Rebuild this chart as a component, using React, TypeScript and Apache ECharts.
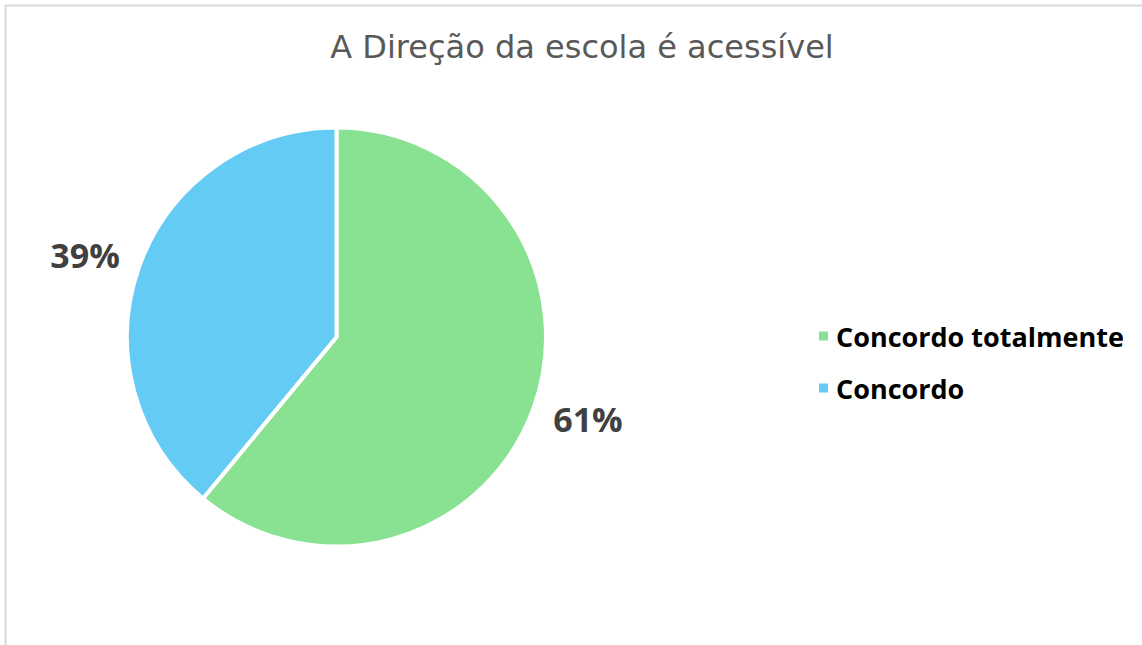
import React, { useEffect, useRef } from "react";
import * as echarts from "echarts";

const titleText = "A Direção da escola é acessível";
const categories = ["Concordo totalmente", "Concordo"];
const values = [61, 39];
const colors = ["#88E291", "#63CBF4"];

export default function App() {
  const ref = useRef<HTMLDivElement>(null);
  useEffect(() => {
    document.body.style.margin = "0";
    const chart = echarts.init(ref.current!, null, { renderer: "svg" });
    chart.setOption({
      animation: false,
      backgroundColor: "#ffffff",
      title: {
        text: titleText,
        left: 577,
        textAlign: "center",
        top: 26,
        textStyle: {
          fontFamily: "DejaVu Sans",
          fontSize: 32,
          fontWeight: "normal",
          color: "#595959",
        },
      },
      legend: {
        orient: "vertical",
        left: 812,
        top: 316,
        itemWidth: 11,
        itemHeight: 11,
        itemGap: 22,
        icon: "rect",
        data: categories,
        textStyle: {
          fontFamily: "Open Sans",
          fontSize: 27,
          lineHeight: 30,
          fontWeight: "bold",
          color: "#000000",
          padding: [0, 0, 0, 2],
        },
      },
      graphic: [
        {
          type: "rect",
          shape: { x: 5.5, y: 5.5, width: 1200, height: 700 },
          style: { fill: "none", stroke: "#d9d9d9", lineWidth: 2 },
          silent: true,
        },
      ],
      series: [
        {
          type: "pie",
          center: [336.5, 337],
          radius: [0, 209.5],
          startAngle: 90,
          clockwise: true,
          itemStyle: { borderColor: "#ffffff", borderWidth: 4 },
          label: {
            show: true,
            position: "outside",
            formatter: "{d}%",
            fontFamily: "Open Sans",
            fontSize: 34,
            fontWeight: "bold",
            color: "#404040",
            distanceToLabelLine: -11,
          },
          labelLine: { show: false, length: 32.5, length2: 0 },
          emphasis: { disabled: true },
          data: categories.map((c, i) => ({
            name: c,
            value: values[i],
            itemStyle: { color: colors[i] },
          })),
        },
      ],
    });
    return () => chart.dispose();
  }, []);
  return (
    <div
      ref={ref}
      style={{ position: "absolute", left: 0, top: 0, width: 1142, height: 645 }}
    />
  );
}
